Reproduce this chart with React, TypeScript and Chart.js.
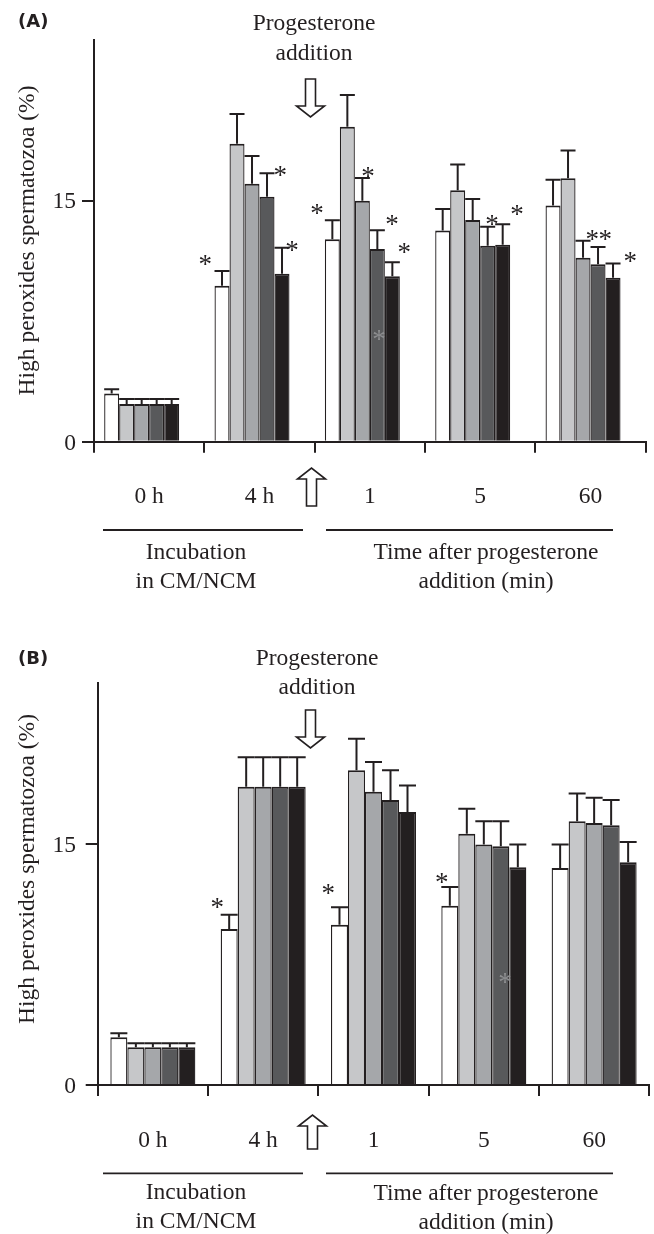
import React, { useEffect, useRef } from 'react';
import { Chart, registerables } from 'chart.js';

Chart.register(...registerables);

// ---- shared axis content ----
const CATEGORIES = ['0 h', '4 h', '1', '5', '60'];
const SERIES_NAMES = ['Control', 'Group 1', 'Group 2', 'Group 3', 'Group 4'];
const SERIES_COLORS = ['#ffffff', '#c6c7c9', '#a5a7aa', '#58595b', '#231f20'];
const Y_TICKS = [0, 15];
const Y_MAX = 25;
const Y_TITLE = 'High peroxides spermatozoa (%)';
const TOP_NOTE = ['Progesterone', 'addition'];
const GROUP_LEFT = ['Incubation', 'in CM/NCM'];
const GROUP_RIGHT = ['Time after progesterone', 'addition (min)'];

// ---- panel A values (mean, SEM) ----
const A_WHITE = [3.0, 9.7, 12.6, 13.15, 14.7];
const A_LIGHT = [2.35, 18.55, 19.6, 15.65, 16.4];
const A_MEDIUM = [2.35, 16.05, 15.0, 13.8, 11.45];
const A_DARK = [2.35, 15.25, 12.0, 12.2, 11.05];
const A_BLACK = [2.35, 10.45, 10.3, 12.25, 10.2];
const A_WHITE_ERR = [0.27, 0.93, 1.18, 1.33, 1.6];
const A_LIGHT_ERR = [0.3, 1.85, 1.97, 1.6, 1.72];
const A_MEDIUM_ERR = [0.3, 1.73, 1.41, 1.31, 1.06];
const A_DARK_ERR = [0.3, 1.45, 1.16, 1.18, 1.06];
const A_BLACK_ERR = [0.3, 1.62, 0.87, 1.28, 0.89];

// ---- panel B values (mean, SEM) ----
const B_WHITE = [2.97, 9.7, 9.97, 11.15, 13.5];
const B_LIGHT = [2.35, 18.55, 19.57, 15.62, 16.4];
const B_MEDIUM = [2.35, 18.55, 18.24, 14.95, 16.3];
const B_DARK = [2.35, 18.55, 17.72, 14.85, 16.16];
const B_BLACK = [2.35, 18.55, 16.97, 13.54, 13.86];
const B_WHITE_ERR = [0.25, 0.89, 1.08, 1.16, 1.45];
const B_LIGHT_ERR = [0.25, 1.84, 1.97, 1.56, 1.73];
const B_MEDIUM_ERR = [0.25, 1.84, 1.85, 1.45, 1.56];
const B_DARK_ERR = [0.25, 1.84, 1.85, 1.55, 1.56];
const B_BLACK_ERR = [0.25, 1.84, 1.66, 1.41, 1.25];

// Significance marks: anchored to a bar's error cap (dx, dy in px),
// or placed inside a bar at a given level (value).
type Mark = { cat: number; series: number; dx: number; dy?: number; value?: number };

const MARKS_A: Mark[] = [
  { cat: 1, series: 0, dx: -16.7, dy: -10.7 },
  { cat: 1, series: 3, dx: 13.3, dy: -1.6 },
  { cat: 1, series: 4, dx: 10, dy: -1.6 },
  { cat: 2, series: 0, dx: -15.4, dy: -10.7 },
  { cat: 2, series: 2, dx: 5.6, dy: -5.6 },
  { cat: 2, series: 3, dx: 14.6, dy: -10 },
  { cat: 2, series: 4, dx: 11.9, dy: -14.4 },
  { cat: 2, series: 3, dx: 1.6, value: 6.65 },
  { cat: 3, series: 3, dx: 4.2, dy: -6.7 },
  { cat: 3, series: 4, dx: 14.2, dy: -14.3 },
  { cat: 4, series: 2, dx: 9.2, dy: -5.7 },
  { cat: 4, series: 3, dx: 7.2, dy: -12.3 },
  { cat: 4, series: 4, dx: 17.2, dy: -5.7 },
];

const MARKS_B: Mark[] = [
  { cat: 1, series: 0, dx: -11.9, dy: -11.7 },
  { cat: 2, series: 0, dx: -11.2, dy: -17.7 },
  { cat: 3, series: 0, dx: -8.1, dy: -9 },
  { cat: 3, series: 3, dx: 4.2, value: 6.65 },
];

const INK = '#231f20';
const INNER_MARK = '#8d8e90';
const SERIF = '"Liberation Serif", "Times New Roman", serif';
const FS = 23.5;
const MARK_FS = 27;
const W = 654;

type Layout = {
  tagY: number;
  headX: number;
  headY: number[];
  down: number[];
  up: number[];
  titleY: number;
  ruleY: number;
  groupY: number[];
};

type PanelSpec = {
  tag: string;
  values: number[][];
  errors: number[][];
  marks: Mark[];
  height: number;
  area: { top: number; bottom: number; left: number; right: number };
  spacer: boolean;
  catPct: number;
  lay: Layout;
};

const PANEL_A: PanelSpec = {
  tag: '(A)',
  values: [A_WHITE, A_LIGHT, A_MEDIUM, A_DARK, A_BLACK],
  errors: [A_WHITE_ERR, A_LIGHT_ERR, A_MEDIUM_ERR, A_DARK_ERR, A_BLACK_ERR],
  marks: MARKS_A,
  height: 640,
  area: { top: 40, bottom: 441.7, left: 94, right: 645.7 },
  spacer: true,
  catPct: 0.8157,
  lay: {
    tagY: 27.3,
    headX: 314,
    headY: [30, 60],
    down: [310.5, 79, 117],
    up: [311.5, 506, 468],
    titleY: 240.5,
    ruleY: 530,
    groupY: [558.5, 587.5],
  },
};

const PANEL_B: PanelSpec = {
  tag: '(B)',
  values: [B_WHITE, B_LIGHT, B_MEDIUM, B_DARK, B_BLACK],
  errors: [B_WHITE_ERR, B_LIGHT_ERR, B_MEDIUM_ERR, B_DARK_ERR, B_BLACK_ERR],
  marks: MARKS_B,
  height: 594,
  area: { top: 43, bottom: 445, left: 97.7, right: 649.3 },
  spacer: false,
  catPct: 0.7705,
  lay: {
    tagY: 23.5,
    headX: 317,
    headY: [25, 53.5],
    down: [310.5, 70, 108],
    up: [312.5, 509, 475],
    titleY: 229,
    ruleY: 533.3,
    groupY: [559.3, 588.3],
  },
};

// Hollow block arrow from tail (y0) to tip (y1)
function blockArrow(ctx: CanvasRenderingContext2D, cx: number, y0: number, y1: number) {
  const s = y1 > y0 ? 1 : -1;
  const hb = y1 - s * 11;
  ctx.beginPath();
  ctx.moveTo(cx - 5, y0);
  ctx.lineTo(cx + 5, y0);
  ctx.lineTo(cx + 5, hb);
  ctx.lineTo(cx + 14, hb);
  ctx.lineTo(cx, y1);
  ctx.lineTo(cx - 14, hb);
  ctx.lineTo(cx - 5, hb);
  ctx.closePath();
  ctx.fillStyle = '#ffffff';
  ctx.fill();
  ctx.lineWidth = 1.6;
  ctx.strokeStyle = INK;
  ctx.stroke();
}

function text(ctx: CanvasRenderingContext2D, s: string, x: number, y: number, align: CanvasTextAlign, font: string) {
  ctx.font = font;
  ctx.textAlign = align;
  ctx.textBaseline = 'alphabetic';
  ctx.fillStyle = INK;
  ctx.fillText(s, x, y);
}

function decor(spec: PanelSpec) {
  const serif = `${FS}px ${SERIF}`;
  return {
    id: 'decor' + spec.tag,
    afterDatasetsDraw(chart: any) {
      const ctx: CanvasRenderingContext2D = chart.ctx;
      const ys = chart.scales.y;
      ctx.save();
      // error bars
      spec.values.forEach((vals, d) => {
        const meta = chart.getDatasetMeta(d);
        meta.data.forEach((bar: any, i: number) => {
          const yTop = ys.getPixelForValue(vals[i] + spec.errors[d][i]);
          const half = bar.width / 2;
          ctx.strokeStyle = INK;
          ctx.lineWidth = 2;
          ctx.beginPath();
          ctx.moveTo(bar.x, bar.y);
          ctx.lineTo(bar.x, yTop);
          ctx.moveTo(bar.x - half, yTop);
          ctx.lineTo(bar.x + half, yTop);
          ctx.stroke();
        });
      });
      // significance marks
      ctx.font = `${MARK_FS}px ${SERIF}`;
      ctx.textAlign = 'center';
      ctx.textBaseline = 'alphabetic';
      spec.marks.forEach((m) => {
        const bar = chart.getDatasetMeta(m.series).data[m.cat];
        const v = spec.values[m.series][m.cat];
        const e = spec.errors[m.series][m.cat];
        const inner = m.value !== undefined;
        const cy = inner ? ys.getPixelForValue(m.value) : ys.getPixelForValue(v + e) + (m.dy || 0);
        ctx.fillStyle = inner ? INNER_MARK : INK;
        ctx.fillText('*', bar.x + m.dx, cy + 0.47 * MARK_FS);
      });
      ctx.restore();
    },
    afterDraw(chart: any) {
      const ctx: CanvasRenderingContext2D = chart.ctx;
      const xs = chart.scales.x;
      const ys = chart.scales.y;
      const L = spec.lay;
      const bottom = chart.chartArea.bottom;
      ctx.save();
      // panel tag
      text(ctx, spec.tag, 18, L.tagY, 'left', `bold 18px "DejaVu Sans", sans-serif`);
      // y tick labels
      Y_TICKS.forEach((v) => {
        text(ctx, String(v), 76, ys.getPixelForValue(v) + 7.8, 'right', serif);
      });
      // x tick labels
      CATEGORIES.forEach((c, i) => {
        text(ctx, c, xs.getPixelForValue(i), bottom + 61.7, 'center', serif);
      });
      // y title
      ctx.save();
      ctx.translate(34.2, L.titleY);
      ctx.rotate(-Math.PI / 2);
      text(ctx, Y_TITLE, 0, 0, 'center', serif);
      ctx.restore();
      // note above the plot
      TOP_NOTE.forEach((s, i) => text(ctx, s, L.headX, L.headY[i], 'center', serif));
      blockArrow(ctx, L.down[0], L.down[1], L.down[2]);
      blockArrow(ctx, L.up[0], L.up[1], L.up[2]);
      // group rules and captions
      ctx.strokeStyle = INK;
      ctx.lineWidth = 1.8;
      ctx.beginPath();
      ctx.moveTo(103, L.ruleY);
      ctx.lineTo(303, L.ruleY);
      ctx.moveTo(326, L.ruleY);
      ctx.lineTo(613, L.ruleY);
      ctx.stroke();
      GROUP_LEFT.forEach((s, i) => text(ctx, s, 196, L.groupY[i], 'center', serif));
      GROUP_RIGHT.forEach((s, i) => text(ctx, s, 486, L.groupY[i] + 0.8, 'center', serif));
      ctx.restore();
    },
  };
}

function Panel({ spec, top }: { spec: PanelSpec; top: number }) {
  const ref = useRef<HTMLCanvasElement>(null);
  useEffect(() => {
    const canvas = ref.current;
    if (!canvas) return;
    const datasets: any[] = spec.values.map((vals, i) => ({
      label: SERIES_NAMES[i],
      data: vals,
      backgroundColor: SERIES_COLORS[i],
      borderColor: INK,
      borderWidth: { top: 2, left: 1.3, right: 1.3, bottom: 0 },
      borderSkipped: 'start',
    }));
    if (spec.spacer) {
      // empty slot that keeps each group of five bars shifted left
      datasets.push({
        label: '',
        data: CATEGORIES.map(() => null),
        backgroundColor: 'rgba(0,0,0,0)',
        borderWidth: 0,
      });
    }
    const chart = new Chart(canvas, {
      type: 'bar',
      data: { labels: CATEGORIES, datasets },
      options: {
        responsive: false,
        animation: false,
        devicePixelRatio: 1,
        layout: { padding: { top: spec.area.top, right: W - spec.area.right, left: 0, bottom: 0 } },
        plugins: { legend: { display: false }, tooltip: { enabled: false } },
        datasets: { bar: { categoryPercentage: spec.catPct, barPercentage: 1 } },
        scales: {
          x: {
            type: 'category',
            offset: true,
            grid: { offset: true, drawOnChartArea: false, drawTicks: true, tickLength: 11, color: INK, lineWidth: 2 },
            border: { display: true, color: INK, width: 2 },
            ticks: { display: false },
            afterFit: (s: any) => {
              s.height = spec.height - spec.area.bottom;
            },
          },
          y: {
            min: 0,
            max: Y_MAX,
            grid: { drawOnChartArea: false, drawTicks: true, tickLength: 12, color: INK, lineWidth: 2 },
            border: { display: true, color: INK, width: 2 },
            ticks: { display: false },
            afterBuildTicks: (s: any) => {
              s.ticks = Y_TICKS.map((v) => ({ value: v }));
            },
            afterFit: (s: any) => {
              s.width = spec.area.left;
            },
          },
        },
      } as any,
      plugins: [decor(spec)],
    });
    return () => chart.destroy();
  }, [spec]);
  return (
    <canvas
      ref={ref}
      width={W}
      height={spec.height}
      style={{ position: 'absolute', left: 0, top, width: W, height: spec.height, display: 'block' }}
    />
  );
}

export default function App() {
  return (
    <div style={{ position: 'absolute', left: 0, top: 0, width: W, height: 1234, background: '#ffffff' }}>
      <Panel spec={PANEL_A} top={0} />
      <Panel spec={PANEL_B} top={640} />
    </div>
  );
}
